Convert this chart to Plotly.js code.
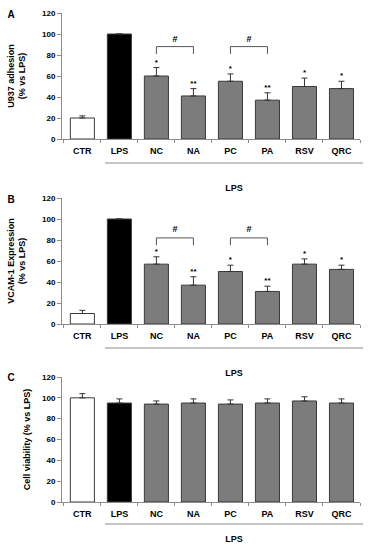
<!DOCTYPE html>
<html>
<head>
<meta charset="utf-8">
<script src="https://cdn.plot.ly/plotly-3.0.1.min.js"></script>
<style>html,body{margin:0;padding:0;background:#fff;}#chart{width:374px;height:550px;}</style>
</head>
<body>
<div id="chart"></div>
<script>
// ---- data ----
var categories = ['CTR', 'LPS', 'NC', 'NA', 'PC', 'PA', 'RSV', 'QRC'];
var adhesionValues = [20, 100, 60, 41, 55, 37, 50, 48];
var adhesionErrors = [2, null, 8, 7, 7, 7, 8, 7];
var adhesionStars = ['', '', '*', '**', '*', '**', '*', '*'];
var vcamValues = [10, 100, 57, 37, 50, 31, 57, 52];
var vcamErrors = [3, null, 7, 8, 6, 5, 5, 4];
var vcamStars = ['', '', '*', '**', '*', '**', '*', '*'];
var viabilityValues = [100, 95, 94, 95, 94, 95, 97, 95];
var viabilityErrors = [4, 4, 3, 4, 4, 4, 4, 4];
var bracketPairs = [['NC', 'NA'], ['PC', 'PA']];
var bracketLabel = '#';
var yTicks = [0, 20, 40, 60, 80, 100, 120];
var groupLabel = 'LPS';
var panelLetters = ['A', 'B', 'C'];
var yTitles = ['U937 adhesion<br>(% vs LPS)', 'VCAM-1 Expression<br>(% vs LPS)', 'Cell viability (% vs LPS)'];

// ---- styling / layout ----
var FONT = 'Liberation Sans, Arial, sans-serif';
var barColors = ['#ffffff', '#000000', '#7c7c7c', '#7c7c7c', '#7c7c7c', '#7c7c7c', '#7c7c7c', '#7c7c7c'];
var axisGray = '#8c8c8c';
var W = 374, H = 550;
var AX_L = 62, AX_R = 360, XR0 = -0.55, XR1 = 7.5;
function py(px) { return (H - px) / H; }
function pxX(px) { return px / W; }

var idx = categories.map(function (c, i) { return i; });
var boundaries = categories.map(function (c, i) { return i - 0.5; }).concat([categories.length - 0.5]);

var panels = [
  {vals: adhesionValues, errs: adhesionErrors, stars: adhesionStars, brackets: true, y0: 139, y120: 13, lineY: 163, labY: 189, letterY: 15, bracketY: [81, 88], hashY: 95, standoff: 14},
  {vals: vcamValues, errs: vcamErrors, stars: vcamStars, brackets: true, y0: 324, y120: 198, lineY: 348, labY: 374, letterY: 200, bracketY: [75, 82], hashY: 90, standoff: 14},
  {vals: viabilityValues, errs: viabilityErrors, stars: null, brackets: false, y0: 502, y120: 377, lineY: 524, labY: 540, letterY: 378, standoff: 9}
];

var traces = [];
var layout = {
  width: W, height: H,
  margin: {l: 0, r: 0, t: 0, b: 0},
  paper_bgcolor: '#fff', plot_bgcolor: 'rgba(0,0,0,0)',
  showlegend: false,
  bargap: 0.35,
  font: {family: FONT, color: '#000'},
  shapes: [],
  // full-page overlay axes (pixel units) used only for decorative labels
  xaxis4: {domain: [0, 1], range: [0, W], visible: false, fixedrange: true, anchor: 'y4'},
  yaxis4: {domain: [0, 1], range: [H, 0], visible: false, fixedrange: true, anchor: 'x4'}
};

var decoX = [], decoY = [], decoText = [], decoSize = [];

panels.forEach(function (p, i) {
  var n = i + 1;
  var xa = 'x' + (n === 1 ? '' : n), ya = 'y' + (n === 1 ? '' : n);
  var xk = 'xaxis' + (n === 1 ? '' : n), yk = 'yaxis' + (n === 1 ? '' : n);
  traces.push({
    type: 'bar', x: idx.slice(), y: p.vals.slice(), xaxis: xa, yaxis: ya,
    marker: {color: barColors.slice(), line: {color: '#3a3a3a', width: 1}},
    error_y: {type: 'data', array: p.errs.slice(), arrayminus: p.errs.map(function () { return 0; }), symmetric: false,
      color: '#333333', thickness: 1, width: 3},
    hoverinfo: 'y'
  });
  layout[xk] = {
    domain: [pxX(AX_L), pxX(AX_R)], anchor: ya,
    range: [XR0, XR1], tickmode: 'array', tickvals: idx.slice(), ticktext: categories.slice(),
    showline: true, linecolor: axisGray, linewidth: 1,
    ticks: 'outside', ticklen: 3, tickcolor: 'rgba(0,0,0,0)',
    minor: {tickmode: 'array', tickvals: boundaries.slice(), ticks: 'outside', ticklen: 3, tickcolor: axisGray, showgrid: false},
    showgrid: false, zeroline: false,
    tickfont: {family: FONT, size: 9, color: '#000', weight: 'bold'},
    fixedrange: true
  };
  layout[yk] = {
    domain: [py(p.y0), py(p.y120)], anchor: xa,
    range: [0, 120], tickmode: 'array', tickvals: yTicks.slice(),
    showline: true, linecolor: axisGray, linewidth: 1,
    ticks: 'outside', ticklen: 4, tickcolor: axisGray,
    showgrid: false, zeroline: false, showticklabels: true,
    tickfont: {family: FONT, size: 8, color: '#000', weight: 'bold'},
    title: {text: yTitles[i], font: {family: FONT, size: 9, color: '#000', weight: 'bold'}, standoff: p.standoff},
    fixedrange: true
  };
  if (p.stars) {
    traces.push({
      type: 'scatter', mode: 'text', xaxis: xa, yaxis: ya,
      x: idx.slice(),
      y: p.vals.map(function (v, k) { return v + (p.errs[k] || 0) + 1; }),
      text: p.stars.slice(), textposition: 'top center',
      textfont: {family: FONT, size: 8, color: '#000', weight: 'bold'},
      hoverinfo: 'skip'
    });
  }
  if (p.brackets) {
    bracketPairs.forEach(function (pair) {
      var a = categories.indexOf(pair[0]), b = categories.indexOf(pair[1]);
      traces.push({
        type: 'scatter', mode: 'lines', xaxis: xa, yaxis: ya,
        x: [a, a, b, b],
        y: [p.bracketY[0], p.bracketY[1], p.bracketY[1], p.bracketY[0]],
        line: {color: '#555555', width: 1}, hoverinfo: 'skip'
      });
    });
    traces.push({
      type: 'scatter', mode: 'text', xaxis: xa, yaxis: ya,
      x: bracketPairs.map(function (pair) { return (categories.indexOf(pair[0]) + categories.indexOf(pair[1])) / 2; }),
      y: bracketPairs.map(function () { return p.hashY; }),
      text: bracketPairs.map(function () { return bracketLabel; }),
      textposition: 'middle center',
      textfont: {family: FONT, size: 9, color: '#000', weight: 'bold'},
      hoverinfo: 'skip'
    });
  }
  layout.shapes.push({
    type: 'line', xref: 'paper', yref: 'paper',
    x0: pxX(105), x1: pxX(363), y0: py(p.lineY), y1: py(p.lineY),
    line: {color: axisGray, width: 1}
  });
  decoX.push(234, 11);
  decoY.push(p.labY, p.letterY);
  decoText.push(groupLabel, panelLetters[i]);
  decoSize.push(9, 10);
});

traces.push({
  type: 'scatter', mode: 'text', xaxis: 'x4', yaxis: 'y4',
  x: decoX, y: decoY, text: decoText, textposition: 'middle center',
  textfont: {family: FONT, size: decoSize, color: '#000', weight: 'bold'},
  hoverinfo: 'skip'
});

Plotly.newPlot('chart', traces, layout, {displayModeBar: false, staticPlot: true});
</script>
</body>
</html>
